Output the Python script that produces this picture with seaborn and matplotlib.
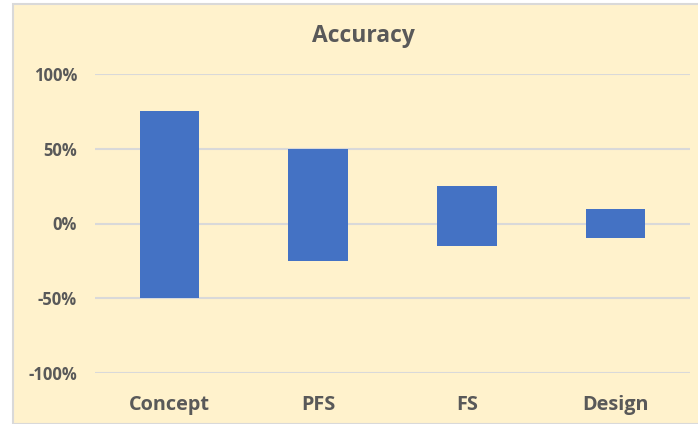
import pandas as pd
import matplotlib
matplotlib.use("Agg")
import matplotlib.pyplot as plt
import seaborn as sns
from matplotlib.patches import Rectangle
from matplotlib.ticker import FuncFormatter

phases = ["Concept", "PFS", "FS", "Design"]
low = [-50, -25, -15, -10]
high = [75, 50, 25, 10]

df = pd.DataFrame({"phase": phases, "low": low, "high": high})
df["span"] = df["high"] - df["low"]

sns.set_theme(style="white")
plt.rcParams["font.family"] = ["Open Sans", "DejaVu Sans"]

text_color = "#595959"
fig = plt.figure(figsize=(6.98, 4.24), dpi=100)
fig.patch.set_facecolor("white")
fig.patches.append(Rectangle((12.5 / 698, 0), 1, 1 - 3.5 / 424, transform=fig.transFigure,
                             facecolor="#FFF2CC", edgecolor="#D9D9D9", linewidth=1.5, zorder=-10))

ax = fig.add_axes([95 / 698, 51 / 424, 595 / 698, 299 / 424])
ax.set_facecolor("none")

sns.barplot(data=df, x="phase", y="span", bottom=df["low"].values, color="#4472C4",
            saturation=1, width=0.4, ax=ax, zorder=3, linewidth=0)

ax.set_ylim(-100, 100)
ax.set_xlim(-0.5, 3.5)
ax.set_yticks([-100, -50, 0, 50, 100])
ax.yaxis.set_major_formatter(FuncFormatter(lambda v, p: f"{int(round(v))}%"))
ax.grid(axis="y", color="#D9D9D9", linewidth=1.5, zorder=0)
ax.set_axisbelow(True)
for s in ax.spines.values():
    s.set_visible(False)
ax.tick_params(axis="both", length=0)
ax.tick_params(axis="y", labelsize=12, labelcolor=text_color, pad=13)
ax.tick_params(axis="x", labelsize=14.3, labelcolor=text_color, pad=16)
for lbl in ax.get_yticklabels() + ax.get_xticklabels():
    lbl.set_fontweight("bold")
ax.set_xlabel("")
ax.set_ylabel("")

fig.text(363 / 698, 1 - 36.5 / 424, "Accuracy", ha="center", va="center",
         fontsize=16.5, fontweight="bold", color=text_color)

fig.savefig("out.png", dpi=100)
